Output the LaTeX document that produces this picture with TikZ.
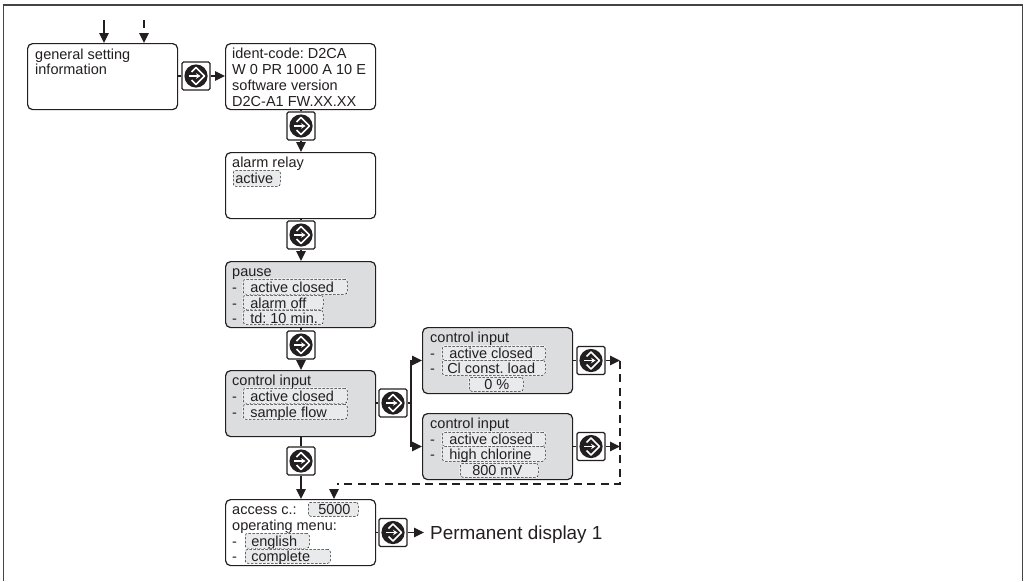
\documentclass[tikz,border=0pt]{standalone}
\usepackage{fontspec}
\setmainfont{Liberation Sans}
\usetikzlibrary{arrows.meta}
\definecolor{ink}{HTML}{231F20}
\definecolor{panel}{HTML}{DCDDDF}
\definecolor{fieldbg}{HTML}{E9EAEC}
\definecolor{framec}{HTML}{444444}
\newcommand{\boxfont}{\fontsize{14.5}{15}\selectfont\frenchspacing}
\tikzset{
  x=1pt,y=-1pt,
  screen/.style={draw=ink,line width=1.2pt,rounded corners=5pt,fill=white,minimum width=150pt,minimum height=66pt,inner sep=0pt,anchor=north west},
  grey/.style={screen,fill=panel},
  btnbox/.style={draw=ink,line width=1.1pt,rounded corners=1.5pt,fill=white,minimum width=28pt,minimum height=28pt,inner sep=0pt},
  lbl/.style={anchor=base west,inner sep=0pt,text=ink,font=\boxfont},
  field/.style={anchor=north west,inner sep=0pt,text=ink,font=\boxfont,fill=fieldbg,rounded corners=2.5pt,
    preaction={draw=white,line width=1.6pt,dash pattern=on 1.3pt off .9pt},draw=ink,line width=.5pt,dash pattern=on 2.4pt off 1.6pt},
  link/.style={draw=ink,line width=1.4pt},
  dlink/.style={link,dash pattern=on 8pt off 5.5pt},
  tip/.style={-{Triangle[length=10pt,width=9.5pt]}}
}
% name, x, y-top, width, height, baseline offset, text offset, text
\newcommand{\fld}[8]{\node[field,minimum width=#4pt,text height=#6pt,text depth={\the\numexpr #5-#6\relax pt}] (#1) at (#2,#3) {\makebox[#4pt][l]{\hspace*{#7pt}#8}};}
% name, centre x, centre y
\newcommand{\btn}[3]{%
  \node[btnbox] (#1) at (#2,#3) {};
  \fill[ink] (#1.center) circle[radius=11.6pt];
  \begin{scope}[shift={(#1.center)}]
    \draw[white,line width=1.7pt,line join=round] (-4.5,-4) -- (0,-8.5) -- (8.5,0) -- (0,8.5) -- (-4.5,4);
    \draw[white,line width=1.6pt,-{Stealth[length=4.5pt,width=5.5pt]}] (-7,0) -- (4.5,0);
  \end{scope}}
\begin{document}
\begin{tikzpicture}
\useasboundingbox (0,0) rectangle (1027,581);
\draw[framec,line width=1.8pt] (3.5,581) -- (3.5,5) -- (1022.5,5) -- (1022.5,581);

% screens
\node[screen] (gen) at (27,43) {};
\node[screen] (ident) at (225,43) {};
\node[screen] (alarm) at (225,152) {};
\node[grey] (pause) at (225,261) {};
\node[grey] (ctrl) at (225,370) {};
\node[grey] (cone) at (422,327) {};
\node[grey] (ctwo) at (422,413) {};
\node[screen] (access) at (225,499) {};

% top inputs
\coordinate (ina) at (104,20);
\coordinate (inb) at (144,20);
\draw[link,tip] (ina) -- (gen.north -| ina);
\draw[link] (inb) -- (144,28);
\draw[link,tip] (144,33) -- (gen.north -| inb);

% buttons
\btn{bgen}{196}{76}
\btn{bident}{301}{126}
\btn{balarm}{301}{235}
\btn{bpause}{301}{345}
\btn{bctrl}{393}{403}
\btn{bcone}{591}{360.5}
\btn{bctwo}{591}{446.5}
\btn{bmain}{301}{461}
\btn{baccess}{393}{532.5}

% connectors
\draw[link] (bgen.west -| gen.east) -- (bgen.west);
\draw[link,tip] (bgen.east) -- (bgen.east -| ident.west);
\draw[link] (ident.south -| bident) -- (bident.north);
\draw[link,tip] (bident.south) -- (alarm.north -| bident);
\draw[link] (alarm.south -| balarm) -- (balarm.north);
\draw[link,tip] (balarm.south) -- (pause.north -| balarm);
\draw[link] (pause.south -| bpause) -- (bpause.north);
\draw[link,tip] (bpause.south) -- (ctrl.north -| bpause);
\draw[link] (ctrl.south -| bmain) -- (bmain.north);
\draw[link,tip] (bmain.south) -- (access.north -| bmain);
\draw[link] (bctrl.west -| ctrl.east) -- (bctrl.west);
\coordinate (fork) at (411,403);
\draw[link] (bctrl.east) -- (fork);
\draw[link,tip] (fork) |- (bcone.west -| cone.west);
\draw[link,tip] (fork) |- (bctwo.west -| ctwo.west);
\draw[link] (bcone.west -| cone.east) -- (bcone.west);
\draw[link] (bctwo.west -| ctwo.east) -- (bctwo.west);
\coordinate (ra) at (620,360.5);
\coordinate (rb) at (620,446.5);
\coordinate (rc) at (620,484);
\coordinate (rd) at (337,484);
\draw[link,tip] (bcone.east) -- (ra);
\draw[link,tip] (bctwo.east) -- (rb);
\draw[dlink] (ra) -- (rc) -- (rd);
\draw[link,tip] (334,489) -- (334,499);
\draw[link] (baccess.west -| access.east) -- (baccess.west);
\coordinate (perm) at (424,532.5);
\draw[link,tip] (baccess.east) -- (perm);

% texts
\node[lbl,font=\fontsize{18.9}{19}\selectfont] (tperm) at (430,539) {Permanent display 1};
\node[lbl] (g1) at (35,59) {general setting};
\node[lbl] (g2) at (35,74) {information};
\node[lbl] (i1) at (232,58) {ident-code: D2CA};
\node[lbl] (i2) at (232,74) {W 0 PR 1000 A 10 E};
\node[lbl] (i3) at (232,90) {software version};
\node[lbl] (i4) at (232,106) {D2C-A1 FW.XX.XX};

\node[lbl] (a1) at (232,167) {alarm relay};
\fld{af}{233}{170}{47}{16}{13}{2}{active}

\node[lbl] (p0) at (232,276) {pause};
\node[lbl] (pd1) at (232,292) {-};
\node[lbl] (pd2) at (232,308) {-};
\node[lbl] (pd3) at (232,323) {-};
\fld{pf1}{243}{279}{104}{15}{13}{7}{active closed}
\fld{pf2}{243}{295}{80}{14}{13}{7}{alarm off}
\fld{pf3}{243}{310}{80}{14}{13}{7}{td: 10 min.}

\node[lbl] (c0) at (232,385) {control input};
\node[lbl] (cd1) at (232,401) {-};
\node[lbl] (cd2) at (232,417) {-};
\fld{cf1}{243}{388}{104}{15}{13}{7}{active closed}
\fld{cf2}{243}{404}{104}{15}{13}{7}{sample flow}

\node[lbl] (o0) at (430,342) {control input};
\node[lbl] (od1) at (430,358) {-};
\node[lbl] (od2) at (430,373) {-};
\fld{of1}{442}{346}{103}{14}{12}{7}{active closed}
\fld{of2}{442}{360}{103}{15}{13}{5}{Cl const. load}
\fld{of3}{469}{377}{54}{14}{12}{15}{0 \%}

\node[lbl] (t0) at (430,428) {control input};
\node[lbl] (td1) at (430,444) {-};
\node[lbl] (td2) at (430,459) {-};
\fld{tf1}{442}{432}{103}{14}{12}{7}{active closed}
\fld{tf2}{442}{446}{103}{15}{13}{7}{high chlorine}
\fld{tf3}{460}{463}{78}{14}{12}{12}{800 mV}

\node[lbl] (x1) at (232,514) {access c.:};
\fld{xf1}{308}{502}{50}{14}{12}{10}{5000}
\node[lbl] (x2) at (232,530) {operating menu:};
\node[lbl] (xd1) at (232,546) {-};
\node[lbl] (xd2) at (232,561) {-};
\fld{xf2}{245}{533}{64}{15}{13}{6}{english}
\fld{xf3}{245}{549}{85}{14}{12}{6}{complete}
\end{tikzpicture}
\end{document}
